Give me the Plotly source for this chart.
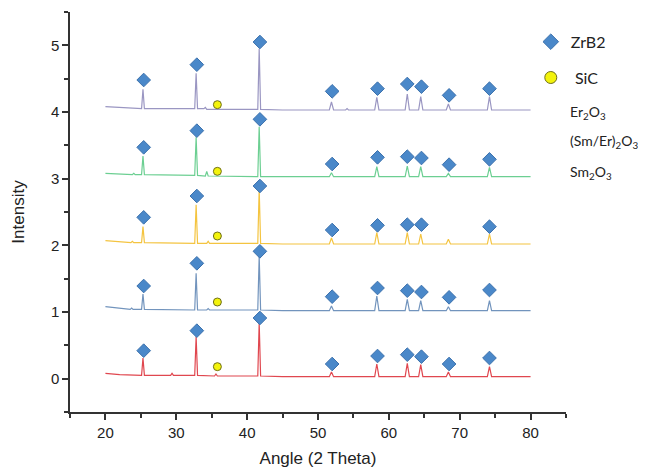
import plotly.graph_objects as go

# ---------------- data ----------------
# XRD patterns (vertices), offset stacked 0..4
x_red = [20, 22, 25.1, 25.3, 25.5, 29.2, 29.4, 29.6, 32.6, 32.8, 33.0, 35.4, 35.6, 35.8,
         41.5, 41.7, 41.9, 45, 51.6, 51.9, 52.2, 58.0, 58.3, 58.6, 62.3, 62.6, 62.9,
         64.2, 64.5, 64.8, 68.1, 68.4, 68.7, 73.9, 74.2, 74.5, 80]
y_red = [0.08, 0.06, 0.05, 0.31, 0.05, 0.05, 0.08, 0.05, 0.05, 0.63, 0.05, 0.04, 0.07, 0.04,
         0.04, 0.84, 0.04, 0.03, 0.03, 0.10, 0.03, 0.03, 0.22, 0.03, 0.03, 0.23, 0.03,
         0.03, 0.21, 0.03, 0.03, 0.10, 0.03, 0.03, 0.18, 0.03, 0.03]

x_blue = [20, 23.5, 23.7, 23.9, 25.1, 25.3, 25.5, 32.6, 32.8, 33.0, 34.3, 34.5, 34.7,
          41.5, 41.7, 41.9, 45, 51.6, 51.9, 52.2, 58.0, 58.3, 58.6, 62.3, 62.6, 62.9,
          64.2, 64.5, 64.8, 68.1, 68.4, 68.7, 73.9, 74.2, 74.5, 80]
y_blue = [1.08, 1.04, 1.06, 1.04, 1.04, 1.27, 1.04, 1.03, 1.58, 1.03, 1.03, 1.05, 1.03,
          1.03, 1.84, 1.03, 1.02, 1.02, 1.09, 1.02, 1.02, 1.24, 1.02, 1.02, 1.19, 1.02,
          1.02, 1.17, 1.02, 1.02, 1.08, 1.02, 1.02, 1.17, 1.02, 1.02]

x_yellow = [20, 23.6, 23.8, 24.0, 25.1, 25.3, 25.5, 32.6, 32.8, 33.0, 34.3, 34.5, 34.7,
            41.5, 41.7, 41.9, 45, 51.6, 51.9, 52.2, 58.0, 58.3, 58.6, 62.3, 62.6, 62.9,
            64.2, 64.5, 64.8, 68.1, 68.4, 68.7, 73.9, 74.2, 74.5, 80]
y_yellow = [2.07, 2.04, 2.06, 2.04, 2.04, 2.28, 2.04, 2.03, 2.61, 2.03, 2.03, 2.06, 2.03,
            2.03, 2.84, 2.03, 2.02, 2.02, 2.11, 2.02, 2.02, 2.19, 2.02, 2.02, 2.19, 2.02,
            2.02, 2.17, 2.02, 2.02, 2.09, 2.02, 2.02, 2.17, 2.02, 2.02]

x_green = [20, 23.8, 24.0, 24.2, 25.1, 25.3, 25.5, 32.6, 32.8, 33.0, 34.1, 34.3, 34.5,
           41.5, 41.7, 41.9, 45, 51.6, 51.9, 52.2, 58.0, 58.3, 58.6, 62.3, 62.6, 62.9,
           64.2, 64.5, 64.8, 68.1, 68.4, 68.7, 73.9, 74.2, 74.5, 80]
y_green = [3.08, 3.06, 3.08, 3.06, 3.06, 3.34, 3.06, 3.05, 3.62, 3.05, 3.04, 3.11, 3.04,
           3.03, 3.78, 3.03, 3.03, 3.03, 3.09, 3.03, 3.03, 3.18, 3.03, 3.03, 3.19, 3.03,
           3.03, 3.18, 3.03, 3.03, 3.08, 3.03, 3.03, 3.17, 3.03, 3.03]

x_purple = [20, 25.1, 25.3, 25.5, 32.6, 32.8, 33.0, 33.9, 34.1, 34.3,
            41.5, 41.7, 41.9, 45, 51.6, 51.9, 52.2, 53.9, 54.1, 54.3, 58.0, 58.3, 58.6,
            62.3, 62.6, 62.9, 64.2, 64.5, 64.8, 68.1, 68.4, 68.7, 73.9, 74.2, 74.5, 80]
y_purple = [4.08, 4.05, 4.34, 4.05, 4.05, 4.58, 4.05, 4.05, 4.07, 4.04,
            4.04, 4.95, 4.04, 4.03, 4.03, 4.15, 4.03, 4.03, 4.05, 4.03, 4.03, 4.22, 4.03,
            4.03, 4.27, 4.03, 4.03, 4.23, 4.03, 4.03, 4.12, 4.03, 4.03, 4.23, 4.03, 4.03]

# ZrB2 markers
zr_x = [25.4, 32.9, 41.8, 52.0, 58.4, 62.6, 64.6, 68.5, 74.2]
zr_x_y = [25.4, 32.9, 41.8, 52.0, 58.4, 62.6, 64.6, 74.2]
zr_red = [0.42, 0.72, 0.91, 0.22, 0.34, 0.36, 0.33, 0.22, 0.31]
zr_blue = [1.39, 1.73, 1.91, 1.23, 1.36, 1.32, 1.30, 1.22, 1.33]
zr_yellow = [2.42, 2.74, 2.89, 2.23, 2.30, 2.31, 2.31, 2.28]
zr_green = [3.47, 3.72, 3.89, 3.22, 3.32, 3.33, 3.31, 3.21, 3.29]
zr_purple = [4.48, 4.71, 5.05, 4.31, 4.35, 4.42, 4.38, 4.25, 4.35]

# SiC markers
sic_x = [35.8, 35.8, 35.8, 35.8, 35.8]
sic_y = [0.18, 1.15, 2.14, 3.11, 4.11]

x_ticks = [20, 30, 40, 50, 60, 70, 80]
y_ticks = [0, 1, 2, 3, 4, 5]
oxide_labels = ["Er<sub>2</sub>O<sub>3</sub>", "(Sm/Er)<sub>2</sub>O<sub>3</sub>", "Sm<sub>2</sub>O<sub>3</sub>"]

# ---------------- figure ----------------
fig = go.Figure()
line_series = [
    (x_red, y_red, "#e0474f"),
    (x_blue, y_blue, "#7294bd"),
    (x_yellow, y_yellow, "#f4c440"),
    (x_green, y_green, "#6ccf92"),
    (x_purple, y_purple, "#9a96c2"),
]
for xs, ys, c in line_series:
    fig.add_trace(go.Scatter(x=xs, y=ys, mode="lines", line=dict(color=c, width=1.2),
                             showlegend=False, hoverinfo="skip"))

dia = dict(symbol="diamond", size=10.5, color="#4a88c9", line=dict(color="#3d72ad", width=1))
for xs, ys in [(zr_x, zr_red), (zr_x, zr_blue), (zr_x_y, zr_yellow), (zr_x, zr_green), (zr_x, zr_purple)]:
    fig.add_trace(go.Scatter(x=xs, y=ys, mode="markers", marker=dia, showlegend=False))

circ = dict(symbol="circle", size=8, color="#f3f30c", line=dict(color="#6f6f1a", width=1))
fig.add_trace(go.Scatter(x=sic_x, y=sic_y, mode="markers", marker=circ, showlegend=False))

# legend entries
fig.add_trace(go.Scatter(x=[None], y=[None], mode="markers", name="ZrB2",
                         marker=dict(symbol="diamond", size=12, color="#4a88c9",
                                     line=dict(color="#3d72ad", width=1)), legendgroup="a"))
fig.add_trace(go.Scatter(x=[None], y=[None], mode="markers", name=" SiC",
                         marker=dict(symbol="circle", size=12, color="#f3f30c",
                                     line=dict(color="#6f6f1a", width=1)), legendgroup="b"))

ann = []
for lab, yy in zip(oxide_labels, [0.75, 0.675, 0.598]):
    ann.append(dict(text=lab, x=1.004, y=yy, xref="paper", yref="paper", xanchor="left",
                    yanchor="middle", showarrow=False,
                    font=dict(family="Lato, Open Sans, sans-serif", size=14, color="#222")))

axis_common = dict(showline=True, linecolor="#333", linewidth=1.5, ticks="outside",
                   ticklen=6, tickwidth=1.5, tickcolor="#333", showgrid=False, zeroline=False,
                   automargin=False,
                   tickfont=dict(family="Liberation Sans, Arial", size=15, color="#222"),
                   minor=dict(ticks="outside", ticklen=4, tickwidth=1.5, tickcolor="#333"))

fig.update_layout(
    width=646, height=473,
    margin=dict(l=62, r=88, t=4, b=69, autoexpand=False),
    plot_bgcolor="white", paper_bgcolor="white",
    xaxis=dict(range=[15, 85], tickvals=x_ticks, minor_dtick=5,
               title=dict(text="Angle (2 Theta)", standoff=12,
                          font=dict(family="Liberation Sans, Arial", size=17, color="#222")),
               **axis_common),
    yaxis=dict(range=[-0.5, 5.5], tickvals=y_ticks, minor_dtick=0.5,
               title=dict(text="Intensity", standoff=22,
                          font=dict(family="Liberation Sans, Arial", size=17, color="#222")),
               **axis_common),
    legend=dict(x=0.929, y=0.968, xanchor="left", yanchor="top", tracegroupgap=12,
                bgcolor="rgba(0,0,0,0)",
                font=dict(family="Lato, Open Sans, sans-serif", size=16, color="#222")),
    annotations=ann,
)
fig.write_html("out.html")
